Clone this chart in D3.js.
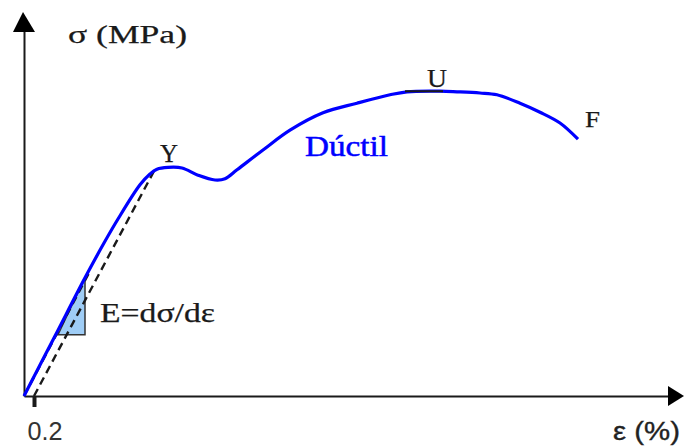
<!DOCTYPE html>
<html>
<head>
<meta charset="utf-8">
<script src="https://cdn.jsdelivr.net/npm/d3@7"></script>
<style>
  html, body { margin: 0; padding: 0; background: #fff; }
  svg { display: block; }
</style>
</head>
<body>
<svg id="chart" width="685" height="446"></svg>
<script>
// Stress–strain curve of a ductile material (strain in %, stress in MPa)
const strain = [0, 0.62, 1.22, 1.58, 1.88, 2.32, 2.52, 2.66, 2.88, 3.16, 3.48, 3.82, 4.02, 4.26,
                4.78, 5.32, 5.98, 6.66, 7.32, 7.66, 8.32, 8.66, 9.12, 9.46, 9.92, 10.32, 10.72, 11.08];
const stress = [0, 100, 197, 252, 295, 352, 370, 378, 381, 380, 368, 360, 362, 377,
                410, 443, 472, 488, 502, 507, 508, 507, 505, 502, 488, 473, 455, 428];

// 0.2 % offset line (parallel to the elastic slope) ending at the yield point
const offsetStrain = [0.2, 2.62];
const offsetStress = [0, 378];

// Tangent of the elastic region drawn from the origin
const tangentStrain = [0, 1.3];
const tangentStress = [0, 205];

// Slope triangle E = dσ/dε
const triStrain = [1.22, 0.68, 1.22];
const triStress = [197, 102, 102];

// Ultimate strength plateau
const plateauStrain = [7.62, 8.38];
const plateauStress = [508, 508];

const xTicks = [0.2];
const xTickLabels = ["0.2"];

const svg = d3.select("#chart");
const x = d3.scaleLinear().domain([0, 12.88]).range([24, 668]);
const y = d3.scaleLinear().domain([0, 610]).range([396, 30]);

const ink = "#1a1a1a";

// Axes
const xAxis = d3.axisBottom(x).tickValues(xTicks)
  .tickFormat((d, i) => xTickLabels[i]).tickSize(11).tickSizeOuter(0);
const gx = svg.append("g").attr("transform", `translate(0,${y(0)})`).call(xAxis);
gx.select(".domain").attr("stroke", ink).attr("stroke-width", 2);
gx.selectAll(".tick line").attr("stroke", ink).attr("stroke-width", 4);
gx.selectAll(".tick text")
  .attr("y", 44).attr("dy", 0).attr("dx", -7)
  .attr("text-anchor", "start")
  .attr("font-family", "'Liberation Sans', Arial, sans-serif")
  .attr("font-size", 26).attr("fill", "#333")
  .attr("textLength", 35).attr("lengthAdjust", "spacingAndGlyphs");

const yAxis = d3.axisLeft(y).tickValues([]).tickSizeOuter(0);
const gy = svg.append("g").attr("transform", `translate(${x(0)},0)`).call(yAxis);
gy.select(".domain").attr("stroke", ink).attr("stroke-width", 2);

// Arrow heads
const x0 = x(0), y0 = y(0);
svg.append("path")
  .attr("d", `M${x0 - 1},12 L${x0 - 11},32 L${x0 + 11},32 Z`)
  .attr("fill", "#000");
svg.append("path")
  .attr("d", `M684,${y0} L${x.range()[1]},${y0 - 10} L${x.range()[1]},${y0 + 10} Z`)
  .attr("fill", "#000");

const line = d3.line().x(d => x(d[0])).y(d => y(d[1]));

// Slope triangle
svg.append("path")
  .datum(d3.zip(triStrain, triStress))
  .attr("d", d => line(d) + "Z")
  .attr("fill", "#9fcdf6").attr("stroke", "#333").attr("stroke-width", 1.5);

// Dashed construction lines
svg.append("path")
  .datum(d3.zip(tangentStrain, tangentStress))
  .attr("d", line)
  .attr("fill", "none").attr("stroke", ink).attr("stroke-width", 2.4)
  .attr("stroke-dasharray", "8,5");
svg.append("path")
  .datum(d3.zip(offsetStrain, offsetStress))
  .attr("d", line)
  .attr("fill", "none").attr("stroke", ink).attr("stroke-width", 2.4)
  .attr("stroke-dasharray", "8,5");

// Stress–strain curve
svg.append("path")
  .datum(d3.zip(strain, stress))
  .attr("d", d3.line().x(d => x(d[0])).y(d => y(d[1])).curve(d3.curveCatmullRom.alpha(0.5)))
  .attr("fill", "none").attr("stroke", "#0000ff").attr("stroke-width", 3.2)
  .attr("stroke-linejoin", "round");

// Ultimate strength marker
svg.append("path")
  .datum(d3.zip(plateauStrain, plateauStress))
  .attr("d", line)
  .attr("fill", "none").attr("stroke", ink).attr("stroke-width", 2);

// Text labels
const serif = "'Liberation Serif', 'Times New Roman', serif";
function label(t, px, py, size, len, opts = {}) {
  const fill = opts.fill || ink;
  svg.append("text")
    .attr("x", px).attr("y", py)
    .attr("font-family", opts.family || serif)
    .attr("font-size", size)
    .attr("fill", fill)
    .attr("stroke", fill).attr("stroke-width", opts.sw || 0.25)
    .attr("textLength", len).attr("lengthAdjust", "spacingAndGlyphs")
    .text(t);
}
label("σ (MPa)", 68, 43, 26, 119);
label("Y", 160, 162, 26, 18);
label("U", 427, 87, 26, 20);
label("F", 585, 127, 24, 15);
label("Dúctil", 305, 156, 29, 83, { fill: "#0000ff", sw: 0.5 });
label("E=dσ/dε", 100, 322, 27, 115);
label("ε (%)", 613, 440, 26, 67, { family: "'Liberation Sans', Arial, sans-serif", fill: "#222", sw: 0.35 });
</script>
</body>
</html>
